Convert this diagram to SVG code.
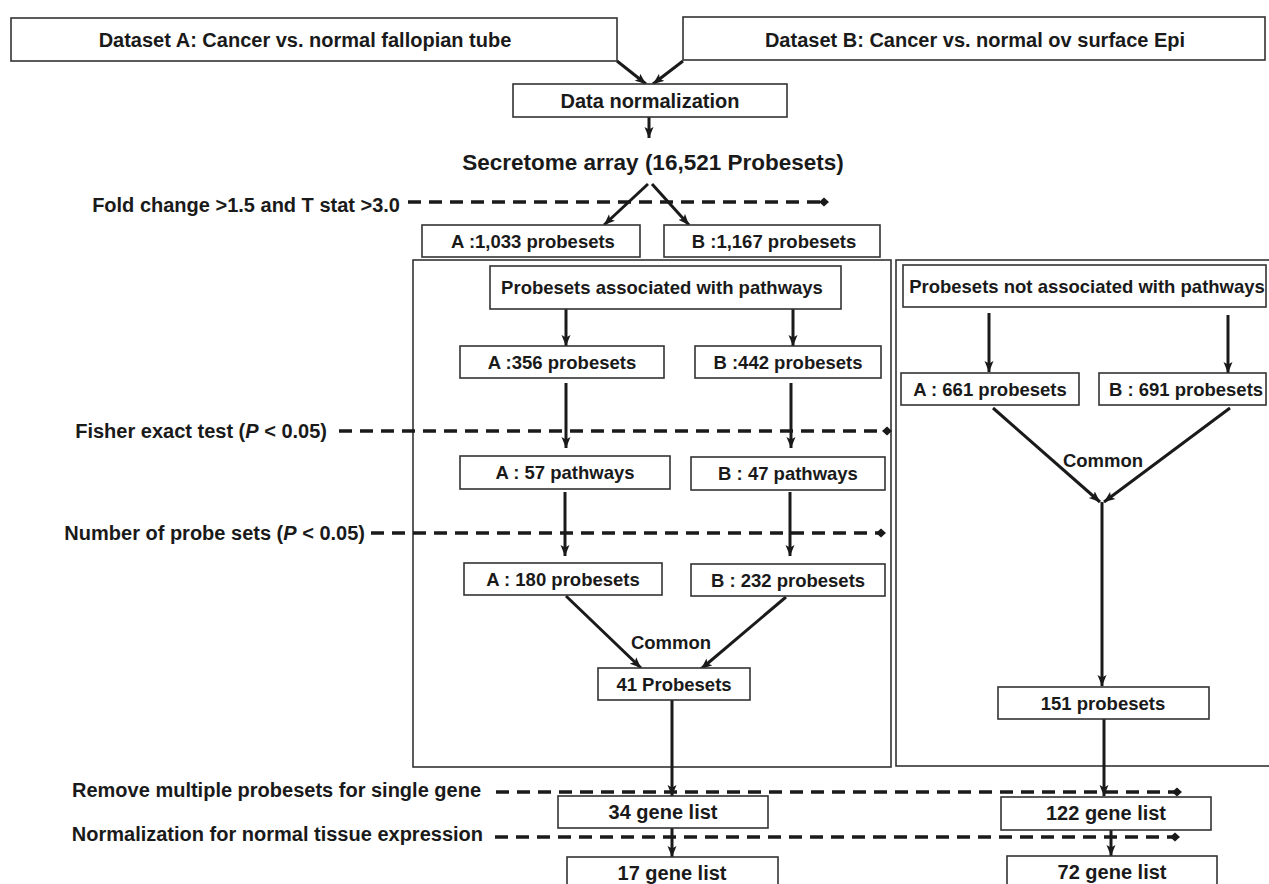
<svg xmlns="http://www.w3.org/2000/svg" width="1269" height="884" viewBox="0 0 1269 884">
<defs>
<marker id="ah" markerUnits="userSpaceOnUse" markerWidth="12" markerHeight="10" refX="11" refY="5" orient="auto">
<path d="M0,0.5 L11,5 L0,9.5 L2.5,5 z" fill="#1a1a1a"/>
</marker>
<marker id="dm" markerUnits="userSpaceOnUse" markerWidth="10" markerHeight="10" refX="5" refY="5" orient="auto">
<path d="M0,5 L5,0.5 L10,5 L5,9.5 z" fill="#1a1a1a"/>
</marker>
<style>
.box{fill:#fff;stroke:#333;stroke-width:1.6}
.cont{fill:none;stroke:#333;stroke-width:1.6}
.t{font-family:"Liberation Sans",Arial,sans-serif;font-weight:bold;fill:#1a1a1a;text-anchor:middle;font-size:18.5px}
.t20{font-size:20px}
.lab{font-family:"Liberation Sans",Arial,sans-serif;font-weight:bold;fill:#1a1a1a;text-anchor:end;font-size:20px}
.ar{stroke:#1a1a1a;stroke-width:3;fill:none;marker-end:url(#ah)}
.ds{stroke:#1a1a1a;stroke-width:3.5;fill:none;stroke-dasharray:13 8;marker-end:url(#dm)}
</style>
</defs>

<g id="containers">
<rect id="pathway-container" class="cont" x="413" y="260" width="478" height="507"/>
<rect id="nonpathway-container" class="cont" x="896" y="260" width="380" height="506"/>
</g>

<g id="connectors">
<line class="ar" x1="617" y1="61" x2="646" y2="84"/>
<line class="ar" x1="683" y1="61" x2="653" y2="84"/>
<line class="ar" x1="649" y1="117" x2="649" y2="138"/>
<line class="ar" x1="648" y1="184" x2="604" y2="225"/>
<line class="ar" x1="652" y1="184" x2="689" y2="225"/>
<line class="ar" x1="566" y1="309" x2="566" y2="346"/>
<line class="ar" x1="793" y1="309" x2="793" y2="346"/>
<line class="ar" x1="566" y1="383" x2="566" y2="448"/>
<line class="ar" x1="791" y1="383" x2="791" y2="448"/>
<line class="ar" x1="565" y1="492" x2="565" y2="556"/>
<line class="ar" x1="790" y1="492" x2="790" y2="556"/>
<line class="ar" x1="566" y1="596" x2="641" y2="668"/>
<line class="ar" x1="786" y1="597" x2="701" y2="669"/>
<line class="ar" x1="672" y1="700" x2="672" y2="796"/>
<line class="ar" x1="989" y1="313" x2="989" y2="372"/>
<line class="ar" x1="1228" y1="315" x2="1228" y2="373"/>
<line class="ar" x1="993" y1="408" x2="1100" y2="502"/>
<line class="ar" x1="1230" y1="408" x2="1104" y2="502"/>
<line class="ar" x1="1102" y1="502" x2="1102" y2="686"/>
<line class="ar" x1="1104" y1="719" x2="1104" y2="796"/>
<line class="ar" x1="672" y1="828" x2="672" y2="857"/>
<line class="ar" x1="1111" y1="830" x2="1111" y2="856"/>
<line class="ds" x1="408" y1="202" x2="824" y2="202"/>
<line class="ds" x1="339" y1="431" x2="887" y2="431"/>
<line class="ds" x1="371" y1="533" x2="881" y2="533"/>
<line class="ds" x1="496" y1="792" x2="1177" y2="792"/>
<line class="ds" x1="495" y1="837" x2="1175" y2="837"/>
</g>

<g id="labels">
<text class="lab" x="400" y="212">Fold change &gt;1.5 and T stat &gt;3.0</text>
<text class="lab" x="327" y="438">Fisher exact test (<tspan font-style="italic">P</tspan> &lt; 0.05)</text>
<text class="lab" x="365" y="540">Number of probe sets (<tspan font-style="italic">P</tspan> &lt; 0.05)</text>
<text class="lab" x="481" y="797">Remove multiple probesets for single gene</text>
<text class="lab" x="483" y="841">Normalization for normal tissue expression</text>
<text class="t" x="671" y="649">Common</text>
<text class="t" x="1103" y="467">Common</text>
</g>

<g id="datasetA"><rect class="box" x="11" y="18" width="606" height="43"/><text class="t t20" x="305" y="47">Dataset A: Cancer vs. normal fallopian tube</text></g>
<g id="datasetB"><rect class="box" x="683" y="17" width="582" height="43"/><text class="t t20" x="975" y="47">Dataset B: Cancer vs. normal ov surface Epi</text></g>
<g id="normalization"><rect class="box" x="513" y="84" width="274" height="33"/><text class="t t20" x="650" y="108">Data normalization</text></g>
<g id="secretome"><text class="t" style="font-size:22.5px" x="653" y="170">Secretome array (16,521 Probesets)</text></g>
<g id="a1033"><rect class="box" x="422" y="225" width="218" height="32"/><text class="t" x="533" y="248">A :1,033 probesets</text></g>
<g id="b1167"><rect class="box" x="664" y="225" width="216" height="32"/><text class="t" x="774" y="248">B :1,167 probesets</text></g>
<g id="pathways"><rect class="box" x="490" y="266" width="351" height="43"/><text class="t" x="662" y="294">Probesets associated with pathways</text></g>
<g id="a356"><rect class="box" x="460" y="346" width="204" height="32"/><text class="t" x="562" y="369">A :356 probesets</text></g>
<g id="b442"><rect class="box" x="695" y="346" width="186" height="32"/><text class="t" x="788" y="369">B :442 probesets</text></g>
<g id="a57"><rect class="box" x="460" y="456" width="210" height="33"/><text class="t" x="565" y="479">A : 57 pathways</text></g>
<g id="b47"><rect class="box" x="691" y="457" width="194" height="33"/><text class="t" x="788" y="480">B : 47 pathways</text></g>
<g id="a180"><rect class="box" x="464" y="563" width="198" height="32"/><text class="t" x="563" y="586">A : 180 probesets</text></g>
<g id="b232"><rect class="box" x="691" y="564" width="194" height="32"/><text class="t" x="788" y="587">B : 232 probesets</text></g>
<g id="p41"><rect class="box" x="598" y="668" width="152" height="32"/><text class="t" x="674" y="691">41 Probesets</text></g>
<g id="nonpathways"><rect class="box" x="903" y="265" width="363" height="42"/><text class="t" x="1087" y="293">Probesets not associated with pathways</text></g>
<g id="a661"><rect class="box" x="901" y="373" width="178" height="32"/><text class="t" x="990" y="396">A : 661 probesets</text></g>
<g id="b691"><rect class="box" x="1099" y="373" width="167" height="32"/><text class="t" x="1186" y="396">B : 691 probesets</text></g>
<g id="p151"><rect class="box" x="998" y="687" width="211" height="32"/><text class="t" x="1103" y="710">151 probesets</text></g>
<g id="g34"><rect class="box" x="558" y="796" width="210" height="32"/><text class="t t20" x="663" y="819">34 gene list</text></g>
<g id="g122"><rect class="box" x="1001" y="797" width="210" height="33"/><text class="t t20" x="1106" y="820">122 gene list</text></g>
<g id="g17"><rect class="box" x="567" y="857" width="211" height="40"/><text class="t t20" x="672" y="880">17 gene list</text></g>
<g id="g72"><rect class="box" x="1007" y="856" width="210" height="40"/><text class="t t20" x="1112" y="879">72 gene list</text></g>
</svg>
